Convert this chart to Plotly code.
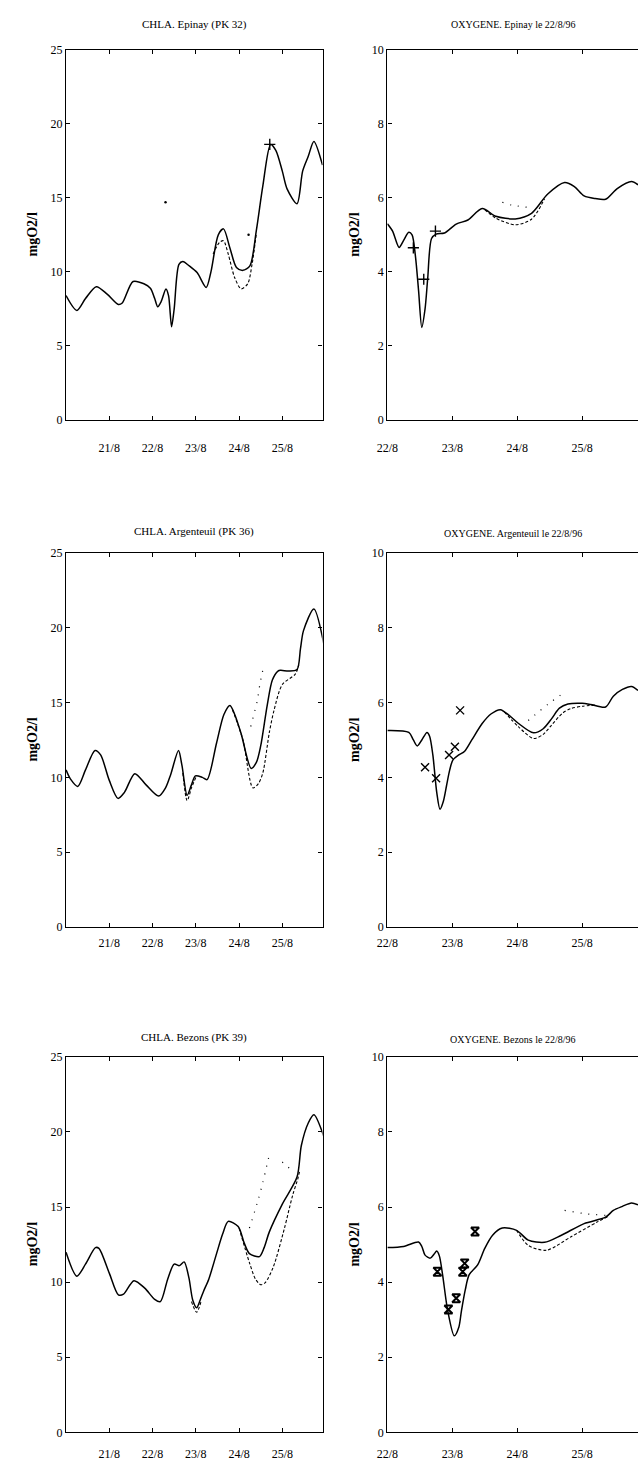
import plotly.graph_objects as go

W, H = 638, 1472

# ---------------- DATA ----------------
# Time axis in days of August 1996 (e.g. 22.5 = 22/8 12h)
day_ticks_chla = [21, 22, 23, 24, 25]
day_labels_chla = ["21/8", "22/8", "23/8", "24/8", "25/8"]
day_ticks_oxy = [22, 23, 24, 25]
day_labels_oxy = ["22/8", "23/8", "24/8", "25/8"]

titles = ["CHLA. Epinay (PK 32)", "OXYGENE. Epinay le 22/8/96",
          "CHLA. Argenteuil (PK 36)", "OXYGENE. Argenteuil le 22/8/96",
          "CHLA. Bezons (PK 39)", "OXYGENE. Bezons le 22/8/96"]
ylabel = "mgO2/l"

# --- CHLA Epinay ---
chla_ep_t = [20.0, 20.25, 20.45, 20.7, 20.95, 21.21, 21.3, 21.55, 21.8, 21.95, 22.05, 22.12, 22.2,
             22.31, 22.37, 22.44, 22.5, 22.61, 22.7, 22.85, 23.03, 23.24, 23.35, 23.52, 23.64,
             23.79, 23.94, 24.09, 24.25, 24.4, 24.55, 24.73, 24.85, 25.0, 25.11, 25.34, 25.47,
             25.6, 25.73, 25.93]
chla_ep_m1 = [8.4, 7.4, 8.2, 9.0, 8.5, 7.8, 7.9, 9.35, 9.2, 8.9, 8.2, 7.65, 8.0,
              8.85, 8.4, 6.3, 7.5, 10.5, 10.7, 10.4, 9.95, 8.95, 10.0, 12.5, 12.9,
              11.6, 10.3, 10.1, 10.4, 12.8, 15.8, 18.6, 18.2, 16.8, 15.6, 14.6, 16.8,
              17.8, 18.8, 17.2]
chla_ep_m2_t = [23.4, 23.55, 23.64, 23.75, 23.9, 24.05, 24.2, 24.3, 24.4]
chla_ep_m2 = [11.2, 12.0, 12.1, 11.2, 9.6, 8.85, 9.2, 10.5, 12.6]
chla_ep_m3_t = [22.3, 24.22]
chla_ep_m3 = [14.7, 12.5]
chla_ep_obs_t = [24.71]
chla_ep_obs = [18.6]

# --- OXYGENE Epinay ---
oxy_ep_t = [22.0, 22.08, 22.18, 22.25, 22.33, 22.38, 22.43, 22.48, 22.53, 22.58, 22.62, 22.68,
            22.75, 22.88, 23.06, 23.24, 23.46, 23.67, 23.97, 24.22, 24.47, 24.73, 24.88, 25.03,
            25.2, 25.36, 25.54, 25.76, 25.86]
oxy_ep_m1 = [5.3, 5.1, 4.66, 4.85, 5.07, 5.0, 4.45, 3.5, 2.5, 3.0, 3.8, 4.9,
             5.02, 5.05, 5.29, 5.4, 5.71, 5.5, 5.43, 5.58, 6.1, 6.41, 6.3, 6.05,
             5.98, 5.96, 6.25, 6.44, 6.35]
oxy_ep_m2_t = [23.5, 23.67, 23.97, 24.22, 24.42]
oxy_ep_m2 = [5.68, 5.45, 5.27, 5.42, 5.97]
oxy_ep_m3_t = [23.77, 23.92, 24.17]
oxy_ep_m3 = [5.88, 5.8, 5.74]
oxy_ep_obs_t = [22.40, 22.56, 22.74]
oxy_ep_obs = [4.65, 3.8, 5.1]

# --- CHLA Argenteuil ---
chla_ar_t = [20.0, 20.1, 20.27, 20.45, 20.67, 20.8, 21.0, 21.2, 21.35, 21.59, 21.85, 22.14, 22.3,
             22.42, 22.6, 22.68, 22.8, 22.9, 22.99, 23.15, 23.26, 23.48, 23.65, 23.79, 23.9,
             24.05, 24.28, 24.4, 24.5, 24.65, 24.77, 24.9, 24.96, 25.15, 25.34, 25.42, 25.49,
             25.73, 25.96]
chla_ar_m1 = [10.5, 9.9, 9.4, 10.5, 11.8, 11.5, 9.8, 8.6, 9.0, 10.25, 9.5, 8.75, 9.3,
              10.2, 11.8, 10.8, 8.8, 9.5, 10.1, 10.0, 9.85, 12.3, 14.2, 14.8, 14.2,
              12.9, 10.6, 11.0, 12.1, 14.8, 16.5, 17.1, 17.15, 17.1, 17.2, 18.6, 19.8,
              21.25, 18.9]
chla_ar_m2_t = [22.7, 22.8, 22.9, 23.0, None, 23.85, 24.09, 24.32, 24.45, 24.55, 24.7, 24.81,
                25.0, 25.3, 25.38]
chla_ar_m2 = [10.3, 8.45, 9.3, 10.0, None, 14.5, 12.5, 9.3, 9.6, 10.3, 13.0, 14.5,
              16.2, 16.9, 17.5]
chla_ar_m3_t = [24.27, 24.42, 24.48, 24.56]
chla_ar_m3 = [13.4, 15.1, 16.2, 17.3]

# --- OXYGENE Argenteuil ---
oxy_ar_t = [22.0, 22.33, 22.4, 22.46, 22.53, 22.61, 22.65, 22.7, 22.76, 22.81, 22.86, 22.91,
            22.96, 23.01, 23.1, 23.19, 23.3, 23.46, 23.6, 23.74, 23.88, 24.02, 24.25, 24.4,
            24.53, 24.65, 24.78, 25.0, 25.13, 25.36, 25.48, 25.62, 25.76, 25.86]
oxy_ar_m1 = [5.25, 5.2, 5.0, 4.84, 5.0, 5.2, 5.1, 4.6, 3.6, 3.15, 3.35, 3.77,
             4.2, 4.47, 4.6, 4.7, 5.0, 5.44, 5.7, 5.81, 5.65, 5.44, 5.19, 5.3,
             5.57, 5.85, 5.96, 5.98, 5.95, 5.88, 6.17, 6.35, 6.43, 6.32]
oxy_ar_m2_t = [23.8, 24.02, 24.25, 24.4, 24.53, 24.7, 24.83, 25.0, 25.2]
oxy_ar_m2 = [5.75, 5.35, 5.04, 5.15, 5.4, 5.72, 5.84, 5.9, 5.93]
oxy_ar_m3_t = [24.17, 24.47, 24.75]
oxy_ar_m3 = [5.52, 5.95, 6.3]
oxy_ar_obs_t = [22.58, 22.75, 22.95, 23.04, 23.12]
oxy_ar_obs = [4.27, 3.98, 4.6, 4.82, 5.79]

# --- CHLA Bezons ---
chla_bz_t = [20.0, 20.25, 20.45, 20.68, 20.76, 21.0, 21.21, 21.33, 21.57, 21.82, 22.05, 22.18,
             22.35, 22.5, 22.62, 22.73, 22.84, 22.93, 23.02, 23.1, 23.18, 23.3, 23.48, 23.62,
             23.75, 23.98, 24.12, 24.24, 24.47, 24.58, 24.7, 25.0, 25.34, 25.44, 25.6, 25.73,
             25.96]
chla_bz_m1 = [12.0, 10.4, 11.2, 12.3, 12.25, 10.6, 9.15, 9.2, 10.1, 9.6, 8.85, 8.7,
              10.2, 11.2, 11.1, 11.35, 10.3, 8.8, 8.3, 8.8, 9.4, 10.2, 11.9, 13.2,
              14.05, 13.7, 12.6, 11.9, 11.7, 12.3, 13.35, 15.2, 17.0, 19.1, 20.6, 21.15,
              19.7]
chla_bz_m2_t = [22.9, 23.02, 23.12, None, 24.0, 24.24, 24.38, 24.5, 24.6, 24.79, 25.05, 25.24,
                25.36, 25.4]
chla_bz_m2 = [8.7, 8.0, 8.7, None, 13.6, 11.3, 10.2, 9.83, 9.95, 11.0, 13.6, 15.8,
              16.9, 17.4]
chla_bz_m3_t = [24.24, 24.45, 24.55, 24.71, None, 25.0, 25.24]
chla_bz_m3 = [13.6, 15.55, 16.65, 18.6, None, 18.0, 17.4]

# --- OXYGENE Bezons ---
oxy_bz_t = [22.0, 22.25, 22.48, 22.53, 22.58, 22.66, 22.72, 22.76, 22.8, 22.85, 22.93, 23.03,
            23.1, 23.14, 23.2, 23.26, 23.39, 23.5, 23.62, 23.77, 23.99, 24.17, 24.42, 24.68,
            25.03, 25.36, 25.48, 25.62, 25.76, 25.86]
oxy_bz_m1 = [4.92, 4.95, 5.07, 4.95, 4.72, 4.64, 4.75, 4.83, 4.7, 4.2, 3.23, 2.57,
             2.8, 3.23, 3.8, 4.2, 4.46, 4.9, 5.25, 5.44, 5.38, 5.12, 5.06, 5.25,
             5.56, 5.73, 5.91, 6.02, 6.11, 6.06]
oxy_bz_m2_t = [23.99, 24.17, 24.45, 24.83, 25.23, 25.4]
oxy_bz_m2 = [5.38, 4.98, 4.85, 5.21, 5.6, 5.75]
oxy_bz_m3_t = [24.32, None, 24.73, 25.06, 25.36]
oxy_bz_m3 = [5.34, None, 5.91, 5.82, 5.78]
oxy_bz_obs_t = [22.77, 22.94, 23.06, 23.16, 23.19, 23.35]
oxy_bz_obs = [4.28, 3.27, 3.57, 4.28, 4.5, 5.35]

# ---------------- FIGURE ----------------
FONT = "Liberation Serif"
fig = go.Figure()

# pixel boxes of each panel: (left, right, top, bottom)
boxes = [(56, 317, 43, 417), (383, 638, 43, 417),
         (56, 317, 551, 929), (383, 638, 551, 929),
         (56, 317, 1060, 1439), (383, 638, 1060, 1439)]
label_standoff = [16, 16, 4, 4, 10, 10]
title_sizes = [11, 10, 11, 10, 11, 10]

panels = [
    (chla_ep_t, chla_ep_m1, chla_ep_m2_t, chla_ep_m2, chla_ep_m3_t, chla_ep_m3, chla_ep_obs_t, chla_ep_obs, "cross-thin"),
    (oxy_ep_t, oxy_ep_m1, oxy_ep_m2_t, oxy_ep_m2, oxy_ep_m3_t, oxy_ep_m3, oxy_ep_obs_t, oxy_ep_obs, "cross-thin"),
    (chla_ar_t, chla_ar_m1, chla_ar_m2_t, chla_ar_m2, chla_ar_m3_t, chla_ar_m3, [], [], "x-thin"),
    (oxy_ar_t, oxy_ar_m1, oxy_ar_m2_t, oxy_ar_m2, oxy_ar_m3_t, oxy_ar_m3, oxy_ar_obs_t, oxy_ar_obs, "x-thin"),
    (chla_bz_t, chla_bz_m1, chla_bz_m2_t, chla_bz_m2, chla_bz_m3_t, chla_bz_m3, [], [], "hourglass-open"),
    (oxy_bz_t, oxy_bz_m1, oxy_bz_m2_t, oxy_bz_m2, oxy_bz_m3_t, oxy_bz_m3, oxy_bz_obs_t, oxy_bz_obs, "hourglass-open"),
]

annotations = []
for i, (t1, y1, t2, y2, t3, y3, to, yo, sym) in enumerate(panels):
    n = i + 1
    xa = "x" if n == 1 else f"x{n}"
    ya = "y" if n == 1 else f"y{n}"
    left, right, top, bottom = boxes[i]
    is_chla = (i % 2 == 0)

    fig.add_trace(go.Scatter(x=t1, y=y1, xaxis=xa, yaxis=ya, mode="lines",
                             line=dict(color="black", width=1.5, shape="spline", smoothing=0.8),
                             showlegend=False))
    fig.add_trace(go.Scatter(x=t2, y=y2, xaxis=xa, yaxis=ya, mode="lines",
                             line=dict(color="black", width=1.1, dash="3px,2px", shape="spline", smoothing=0.8),
                             showlegend=False, connectgaps=False))
    if len(t3) > 2:
        fig.add_trace(go.Scatter(x=t3, y=y3, xaxis=xa, yaxis=ya, mode="lines",
                                 line=dict(color="black", width=1.2, dash="1px,7px", shape="spline", smoothing=0.6),
                                 showlegend=False, connectgaps=False))
    else:
        fig.add_trace(go.Scatter(x=t3, y=y3, xaxis=xa, yaxis=ya, mode="markers",
                                 marker=dict(color="black", size=2.5),
                                 showlegend=False))
    if to:
        lw = 2.0 if sym.startswith("hourglass") else 1.4
        fig.add_trace(go.Scatter(x=to, y=yo, xaxis=xa, yaxis=ya, mode="markers",
                                 marker=dict(symbol=sym, size=8, color="black",
                                             line=dict(color="black", width=lw)),
                                 showlegend=False))

    axis_common = dict(showline=True, linecolor="black", linewidth=1.3,
                       ticks="inside", ticklen=4, tickcolor="black", tickwidth=1,
                       showgrid=False, zeroline=False,
                       tickfont=dict(family=FONT, size=12, color="black"))
    xdom = [left / W, right / W]
    ydom = [1 - bottom / H, 1 - top / H]
    if is_chla:
        xax = dict(axis_common, domain=xdom, anchor=ya, range=[20.0, 25.93],
                   tickvals=day_ticks_chla, ticktext=day_labels_chla, mirror="ticks",
                   ticklabelstandoff=label_standoff[i])
        yax = dict(axis_common, domain=ydom, anchor=xa, range=[0, 25], dtick=5, mirror="ticks")
    else:
        xax = dict(axis_common, domain=xdom, anchor=ya, range=[22.0, 25.86],
                   tickvals=day_ticks_oxy, ticktext=day_labels_oxy, mirror="ticks",
                   ticklabelstandoff=label_standoff[i])
        yax = dict(axis_common, domain=ydom, anchor=xa, range=[0, 10], dtick=2, mirror=False)
    fig.update_layout(**{("xaxis" if n == 1 else f"xaxis{n}"): xax,
                         ("yaxis" if n == 1 else f"yaxis{n}"): yax})

    title_y = [18, 18, 530, 532, 1040, 1042][i]
    annotations.append(dict(text=titles[i], xref="paper", yref="paper",
                            x=((left + right) / 2) / W, y=1 - title_y / H,
                            xanchor="center", yanchor="middle", showarrow=False,
                            font=dict(family=FONT, size=title_sizes[i], color="black")))
    annotations.append(dict(text="<b>" + ylabel + "</b>", xref="paper", yref="paper",
                            x=(22 if is_chla else 350) / W, y=1 - ((top + bottom) / 2) / H,
                            xanchor="center", yanchor="middle", showarrow=False, textangle=-90,
                            font=dict(family=FONT, size=14, color="black")))

fig.update_layout(width=W, height=H, margin=dict(l=0, r=0, t=0, b=0),
                  paper_bgcolor="white", plot_bgcolor="white",
                  annotations=annotations, showlegend=False)

fig.write_html("out.html", config={"displayModeBar": False},
               post_script="document.body.style.margin='0';document.body.style.overflow='hidden';")
